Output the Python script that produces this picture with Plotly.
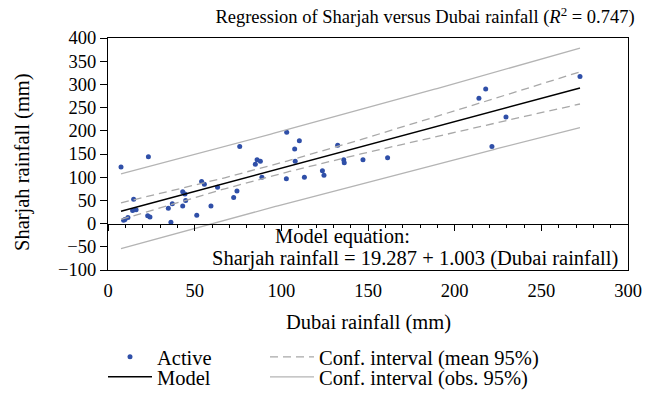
import numpy as np
import plotly.graph_objects as go

# Monthly rainfall pairs (mm)
dubai = [7.5, 23.3, 9.0, 9.8, 11.5, 14.8, 14.2, 16.2, 22.9, 24.2, 34.8, 36.3, 37.1,
         43.1, 44.8, 43.1, 44.4, 51.2, 54.0, 55.6, 59.4, 63.2, 72.5, 74.4, 76.0,
         85.0, 86.0, 87.9, 88.8, 102.9, 103.1, 107.7, 110.4, 108.0, 113.3, 123.7,
         124.6, 132.5, 136.0, 136.3, 147.1, 161.3, 214.0, 217.9, 221.5, 229.6, 272.3]
sharjah = [122, 144, 7, 9, 13, 52.5, 28, 30, 17, 14, 33, 3, 43,
           38, 50, 68.5, 64, 18, 91, 85, 38, 78.5, 56, 70, 166,
           128, 137.7, 134.6, 100, 96.6, 197, 160.6, 178.7, 134.6, 100, 114,
           104, 168.6, 137.7, 131.2, 137.7, 142, 270, 290, 166, 230, 317]

intercept, slope = 19.287, 1.003
r_squared = 0.747
t_crit = 2.014  # Student t, 0.975 quantile, n-2 dof

x = np.array(dubai, dtype=float)
y = np.array(sharjah, dtype=float)
n = len(x)
resid = y - (intercept + slope * x)
s = np.sqrt(np.sum(resid ** 2) / (n - 2))
xbar = x.mean()
sxx = np.sum((x - xbar) ** 2)

xs = np.linspace(x.min(), x.max(), 200)
fit = intercept + slope * xs
se_mean = s * np.sqrt(1 / n + (xs - xbar) ** 2 / sxx)
se_obs = s * np.sqrt(1 + 1 / n + (xs - xbar) ** 2 / sxx)

FONT = "Liberation Serif"
BLUE = "#2f4fa8"
DASH_GREY = "#a8a8a8"
SOLID_GREY = "#b4b4b4"
W, H = 655, 404
L, R, T, B = 108, 27, 38, 134
PW, PH = W - L - R, H - T - B

fig = go.Figure()

fig.add_trace(go.Scatter(x=dubai, y=sharjah, mode="markers", name="Active",
                         marker=dict(color=BLUE, size=5), legend="legend"))
fig.add_trace(go.Scatter(x=xs, y=fit, mode="lines", name="Model", xaxis="x2",
                         line=dict(color="black", width=1.5), legend="legend3"))
fig.add_trace(go.Scatter(x=xs, y=fit + t_crit * se_mean, mode="lines",
                         name="Conf. interval (mean 95%)", legend="legend2",
                         line=dict(color=DASH_GREY, width=1.3, dash="8px,5px")))
fig.add_trace(go.Scatter(x=xs, y=fit - t_crit * se_mean, mode="lines",
                         showlegend=False,
                         line=dict(color=DASH_GREY, width=1.3, dash="8px,5px")))
fig.add_trace(go.Scatter(x=xs, y=fit + t_crit * se_obs, mode="lines",
                         name="Conf. interval (obs. 95%)", legend="legend4",
                         line=dict(color=SOLID_GREY, width=1.3)))
fig.add_trace(go.Scatter(x=xs, y=fit - t_crit * se_obs, mode="lines",
                         showlegend=False,
                         line=dict(color=SOLID_GREY, width=1.3)))


def legend_box(left_px, mid_px):
    return dict(x=left_px / W, y=1 - mid_px / H, xref="container", yref="container",
                xanchor="left", yanchor="middle", orientation="v", itemwidth=44,
                bgcolor="rgba(0,0,0,0)", font=dict(family=FONT, size=20.5))


def px_x(p):
    return (p - L) / PW


def px_y(p):
    return (H - B - p) / PH


fig.update_layout(
    width=W, height=H,
    margin=dict(l=L, r=R, t=T, b=B, autoexpand=False),
    plot_bgcolor="white", paper_bgcolor="white",
    font=dict(family=FONT, size=18.5, color="black"),
    title=dict(text="Regression of Sharjah versus Dubai rainfall (<i>R</i><sup>2</sup> = 0.747)",
               x=425 / W, xref="container", xanchor="center",
               y=1 - 17 / H, yref="container", yanchor="middle",
               font=dict(family=FONT, size=18.5)),
    xaxis=dict(range=[0, 300], dtick=50, showgrid=False, zeroline=False,
               showline=True, mirror=True, linecolor="black", linewidth=1,
               ticks="", ticklabelstandoff=4),
    xaxis2=dict(range=[0, 300], overlaying="x", anchor="free", position=0.2,
                showgrid=False, zeroline=False, showline=True, linecolor="black",
                linewidth=1, ticks="outside", ticklen=6, tickcolor="black",
                dtick=50, showticklabels=False,
                minor=dict(dtick=10, ticks="outside", ticklen=3, tickcolor="black")),
    yaxis=dict(range=[-100, 400], dtick=50, showgrid=False, zeroline=False,
               showline=True, mirror=True, linecolor="black", linewidth=1,
               ticks="outside", ticklen=7, tickcolor="black"),
    legend=legend_box(103, 357),
    legend2=legend_box(265, 357),
    legend3=legend_box(103, 377),
    legend4=legend_box(265, 377),
    annotations=[
        # axis titles
        dict(text="Dubai rainfall (mm)", x=px_x(368), y=px_y(322), xref="paper",
             yref="paper", showarrow=False, xanchor="center", yanchor="middle",
             font=dict(family=FONT, size=20.5)),
        dict(text="Sharjah rainfall (mm)", x=px_x(22), y=px_y(162), xref="paper",
             yref="paper", showarrow=False, xanchor="center", yanchor="middle",
             textangle=-90, font=dict(family=FONT, size=20.5)),
        # model equation
        dict(text="Model equation:", x=px_x(273), y=px_y(236), xref="paper", yref="paper",
             showarrow=False, xanchor="left", yanchor="middle",
             font=dict(family=FONT, size=20.5)),
        dict(text="Sharjah rainfall = 19.287 + 1.003 (Dubai rainfall)", x=px_x(210),
             y=px_y(258), xref="paper", yref="paper", showarrow=False, xanchor="left",
             yanchor="middle", font=dict(family=FONT, size=20.5)),
    ],
)

fig.write_html("out.html")
